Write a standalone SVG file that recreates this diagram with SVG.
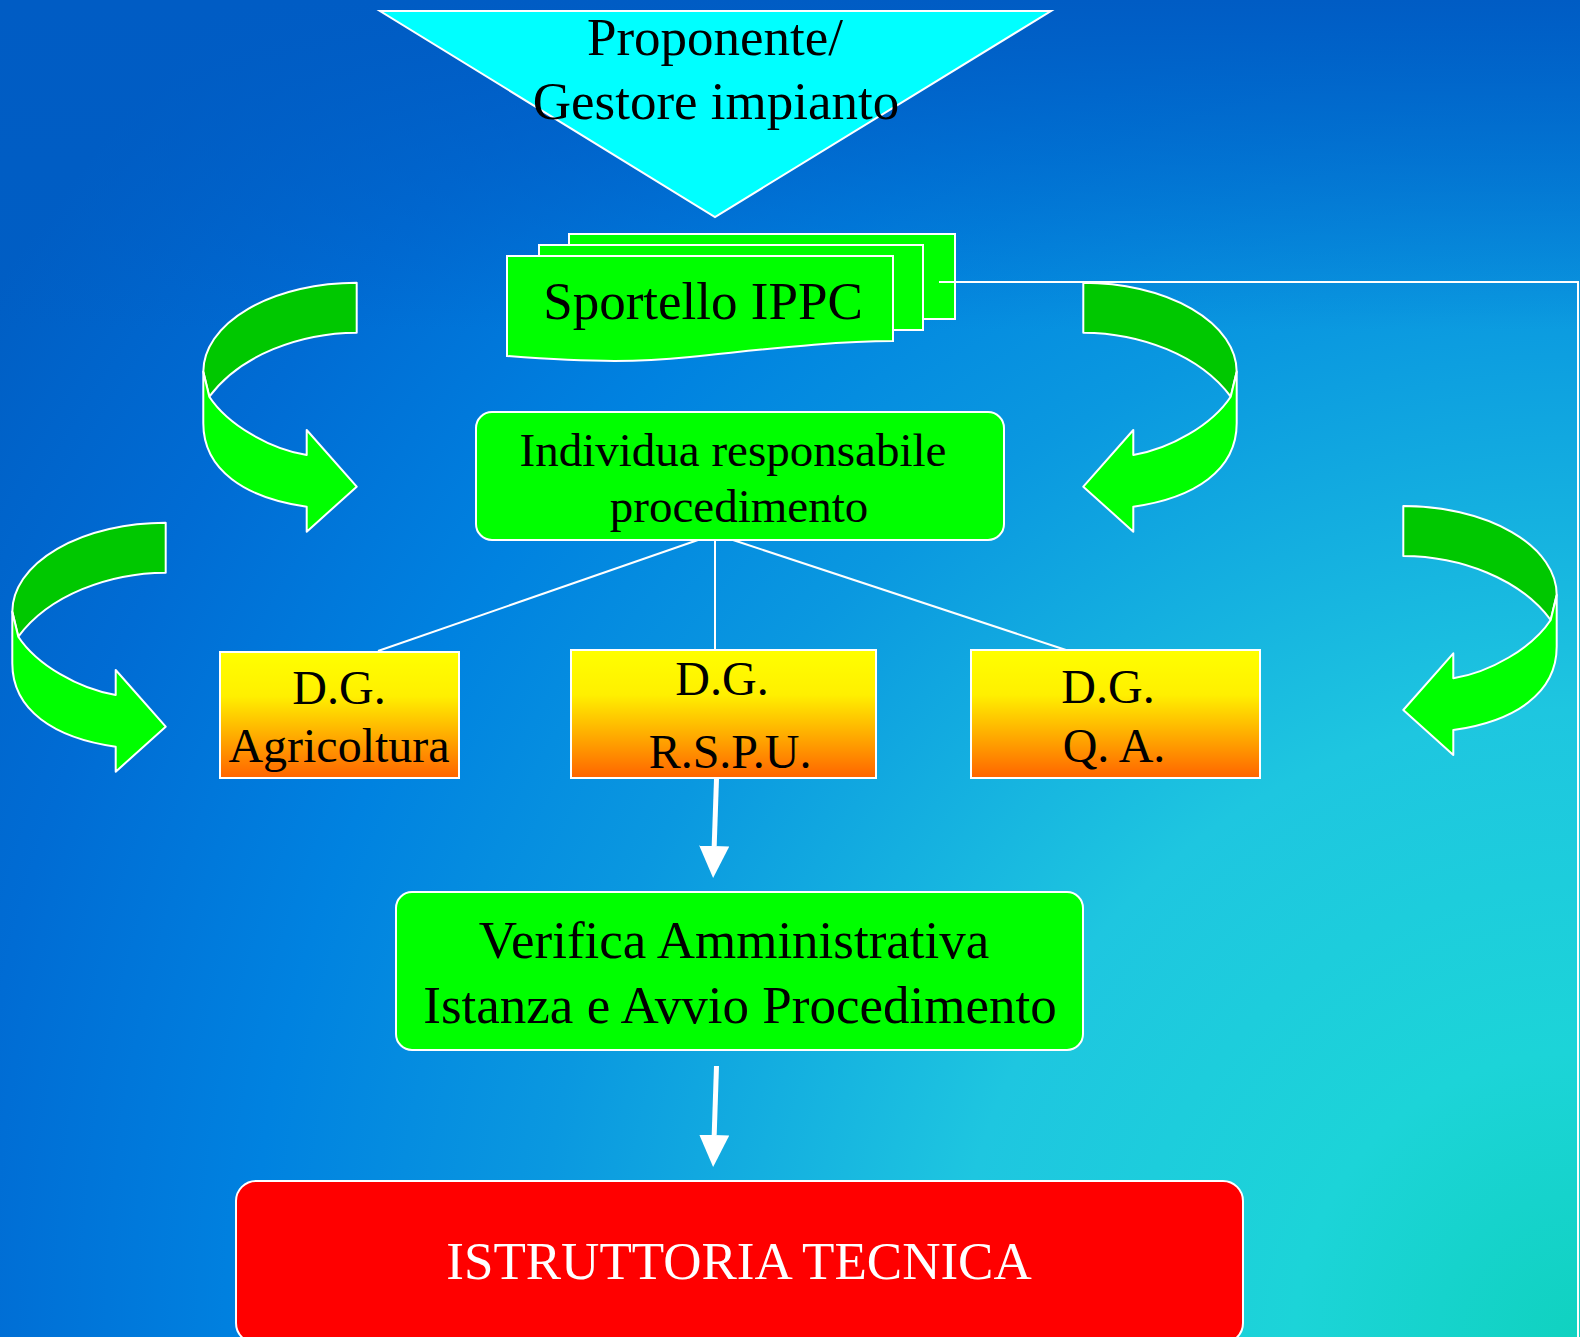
<svg xmlns="http://www.w3.org/2000/svg" xmlns:xlink="http://www.w3.org/1999/xlink" width="1580" height="1337" viewBox="0 0 1580 1337">
<defs>
<radialGradient id="bg" gradientUnits="userSpaceOnUse" cx="1580" cy="1337" r="1900">
<stop offset="0" stop-color="#10d2c0"/>
<stop offset="0.15" stop-color="#1cd4d8"/>
<stop offset="0.33" stop-color="#1ec6e0"/>
<stop offset="0.55" stop-color="#0a98e0"/>
<stop offset="0.7" stop-color="#0082e0"/>
<stop offset="0.85" stop-color="#006cd4"/>
<stop offset="1" stop-color="#005ec4"/>
</radialGradient>
<linearGradient id="topShade" x1="0" y1="0" x2="0" y2="1">
<stop offset="0" stop-color="#005cc4" stop-opacity="1"/>
<stop offset="1" stop-color="#005cc4" stop-opacity="0"/>
</linearGradient>
<linearGradient id="dg" x1="0" y1="0" x2="0" y2="1">
<stop offset="0" stop-color="#ffff00"/>
<stop offset="0.35" stop-color="#fff000"/>
<stop offset="1" stop-color="#ff6400"/>
</linearGradient>
<g id="curl">
<path class="dark" d="M356.7,282.7 A153.4,89 0 0 0 203.3,371.7 L209.3,396.7 C240,355 300,333 356.7,332.7 Z"/>
<path class="light" d="M203.3,371.7 L203.3,423.3 C203.3,470 245,498 306.7,506.7 L306.7,531.7 L356.7,486.7 L306.7,430 L306.7,455 C270,449 228,425 209.3,396.7 Z"/>
</g>
<marker id="ah" viewBox="0 0 32 30" refX="0" refY="15" markerWidth="32" markerHeight="30" markerUnits="userSpaceOnUse" orient="auto">
<path d="M0,0 L32,15 L0,30 Z" fill="#fff"/>
</marker>
<style>
.dark{fill:#00c800;stroke:#fff;stroke-width:2;stroke-linejoin:round}
.light{fill:#00ff00;stroke:#fff;stroke-width:2;stroke-linejoin:round}
.box{fill:#00ff00;stroke:#fff;stroke-width:2}
.dgbox{fill:url(#dg);stroke:#fff;stroke-width:2}
.t{font-family:"Liberation Serif","Times New Roman",serif;fill:#000;text-anchor:middle}
.big{font-size:53px}
.mid{font-size:48px}
.conn{stroke:#fff;stroke-width:2;fill:none}
.thick{stroke:#fff;stroke-width:5;fill:none}
</style>
</defs>
<rect x="0" y="0" width="1580" height="1337" fill="url(#bg)"/>
<rect x="0" y="0" width="1580" height="330" fill="url(#topShade)"/>

<g id="curl-arrows">
<use id="curl1" xlink:href="#curl" href="#curl"/>
<use id="curl2" xlink:href="#curl" href="#curl" transform="translate(1440,0) scale(-1,1)"/>
<use id="curl3" xlink:href="#curl" href="#curl" transform="translate(-191,240)"/>
<use id="curl4" xlink:href="#curl" href="#curl" transform="translate(1760,223.3) scale(-1,1)"/>
</g>

<g id="proponente">
<polygon points="380,11 1051,11 715,217" fill="#00ffff" stroke="#fff" stroke-width="2"/>
<text class="t big" x="715" y="55">Proponente/</text>
<text class="t big" x="716" y="119">Gestore impianto</text>
</g>

<g id="sportello">
<rect x="569" y="234" width="386" height="85" class="box"/>
<rect x="539" y="245" width="384" height="85" class="box"/>
<path d="M507,256 H893 V341 C830,341 760,350 690,357 C640,362 600,363 507,356 Z" class="box"/>
<text class="t big" x="703" y="319">Sportello IPPC</text>
</g>

<g id="individua">
<rect x="476" y="412" width="528" height="128" rx="16" class="box"/>
<text class="t" font-size="47" x="733" y="466">Individua responsabile</text>
<text class="t" font-size="47" x="739" y="522">procedimento</text>
</g>

<g id="dg-agricoltura">
<rect x="220" y="652" width="239" height="126" class="dgbox"/>
<text class="t mid" x="339" y="704">D.G.</text>
<text class="t mid" x="339" y="762">Agricoltura</text>
</g>

<g id="dg-rspu">
<rect x="571" y="650" width="305" height="128" class="dgbox"/>
<text class="t mid" x="722" y="695">D.G.</text>
<text class="t mid" x="730" y="768">R.S.P.U.</text>
</g>

<g id="dg-qa">
<rect x="971" y="650" width="289" height="128" class="dgbox"/>
<text class="t mid" x="1108" y="703">D.G.</text>
<text class="t mid" x="1114" y="762">Q. A.</text>
</g>

<g id="verifica">
<rect x="396" y="892" width="687" height="158" rx="16" class="box"/>
<text class="t big" x="734" y="958">Verifica Amministrativa</text>
<text class="t big" x="740" y="1023">Istanza e Avvio Procedimento</text>
</g>

<g id="istruttoria">
<rect x="236" y="1181" width="1007" height="162" rx="20" fill="#ff0000" stroke="#fff" stroke-width="2"/>
<text class="t big" x="739" y="1279" style="fill:#fff">ISTRUTTORIA TECNICA</text>
</g>

<g id="connectors">
<polyline class="conn" points="939,282 1578,282 1578,1337"/>
<line class="conn" x1="698" y1="540" x2="378" y2="651"/>
<line class="conn" x1="715" y1="540" x2="715" y2="650"/>
<line class="conn" x1="733" y1="540" x2="1066" y2="650"/>
<line class="thick" x1="716.5" y1="779" x2="714.2" y2="846" marker-end="url(#ah)"/>
<line class="thick" x1="716.5" y1="1066" x2="714.2" y2="1135" marker-end="url(#ah)"/>
</g>
</svg>
